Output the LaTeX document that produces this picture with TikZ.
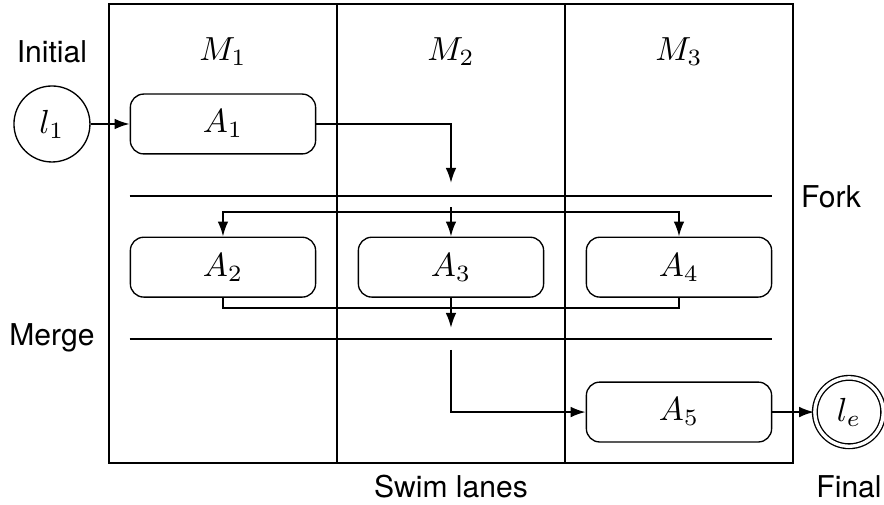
\documentclass[tikz,border=0pt]{standalone}
\usepackage[no-math]{fontspec}
\setsansfont{TeX Gyre Heros}
\usetikzlibrary{arrows.meta}

\begin{document}
\begin{tikzpicture}[>={Latex[length=4.5pt,width=3.2pt]},
  act/.style={draw, rounded corners=4pt, minimum width=1.95cm, minimum height=0.63cm},
  state/.style={draw, circle, minimum size=0.8cm, inner sep=0pt},
  lbl/.style={font=\sffamily\small},
  flow/.style={->, semithick},
  bar/.style={thick}]
\useasboundingbox (-1.147,0.042) rectangle (8.158,-5.263);
% the three lanes
\draw (0,0) rectangle (7.2,-4.83);
\foreach \x in {2.4,4.8} \draw (\x,0) -- (\x,-4.83);
\foreach \x/\m in {1.2/1, 3.6/2, 6.0/3} \node (M\m) at (\x,-0.5) {$M_\m$};
% states and activities
\node[lbl] (init) at (-0.6,-0.5) {Initial};
\node[state] (l1) at (-0.6,-1.263) {$l_1$};
\node[act] (A1) at (1.2,-1.263) {$A_1$};
\node[act] (A2) at (1.2,-2.77) {$A_2$};
\node[act] (A3) at (3.6,-2.77) {$A_3$};
\node[act] (A4) at (6.0,-2.77) {$A_4$};
\node[act] (A5) at (6.0,-4.295) {$A_5$};
\node[state, double, double distance=1pt, minimum size=0.72cm] (le) at (7.79,-4.295) {$l_e$};
\node[lbl] (forklbl) at (7.6,-2.03) {Fork};
\node[lbl] (mergelbl) at (-0.6,-3.516) {Merge};
\node[lbl] (lanes) at (3.6,-5.08) {Swim lanes};
\node[lbl] (final) at (7.79,-5.08) {Final};
% fork and merge bars
\coordinate (fork) at (3.6,-2.02);
\coordinate (merge) at (3.6,-3.526);
\draw[bar] (A2.west |- fork) -- (A4.east |- fork);
\draw[bar] (A2.west |- merge) -- (A4.east |- merge);
% control flow
\coordinate (forkin) at (3.6,-1.884);
\coordinate (forkout) at (3.6,-2.137);
\coordinate (split) at (3.6,-2.19);
\coordinate (join) at (3.6,-3.2);
\coordinate (mergein) at (3.6,-3.41);
\coordinate (mergeout) at (3.6,-3.64);
\draw[flow] (l1) -- (A1);
\draw[flow] (A1.east) -| (forkin);
\draw[flow] (forkout) -- (A3.north);
\draw[flow] (split) -| (A2.north);
\draw[flow] (split) -| (A4.north);
\draw[semithick] (A2.south) |- (join) -| (A4.south);
\draw[flow] (A3.south) -- (mergein);
\draw[flow] (mergeout) |- (A5.west);
\draw[flow] (A5) -- (le);
\end{tikzpicture}
\end{document}
